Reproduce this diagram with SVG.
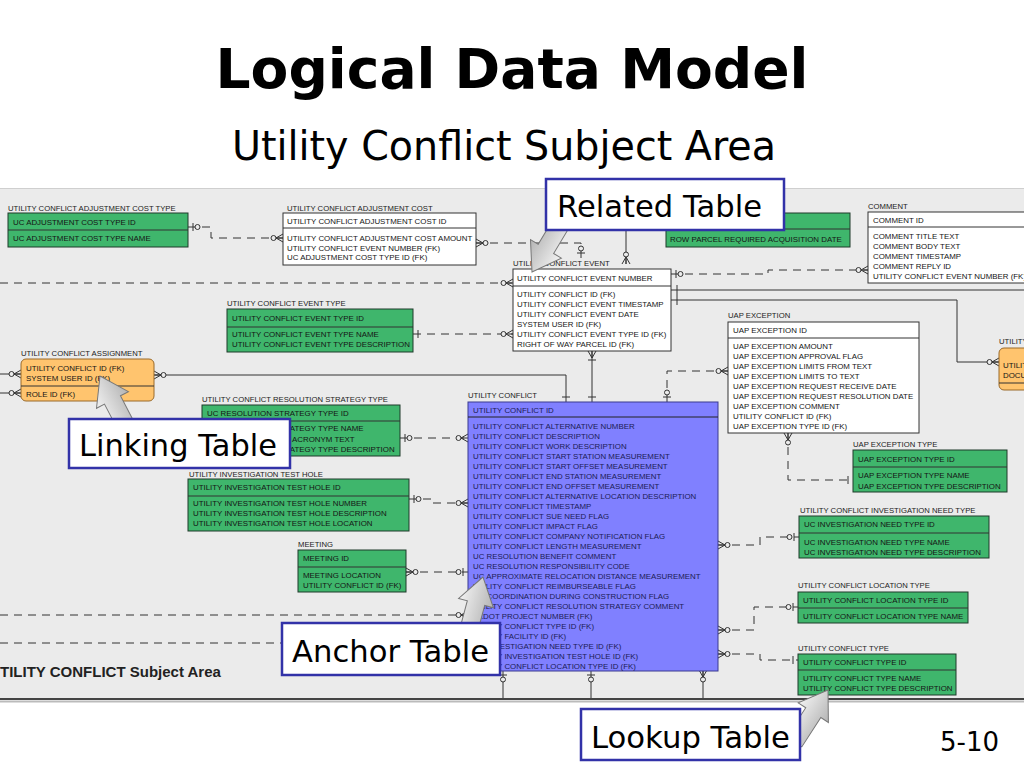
<svg xmlns="http://www.w3.org/2000/svg" width="1024" height="768" viewBox="0 0 1024 768">
<style>
.t{font-family:"Liberation Sans",Arial,sans-serif;font-size:7.9px;fill:#151515}
.bt{font-family:"Liberation Sans",Arial,sans-serif;font-size:7.9px;fill:#1c1c55}
.lbl{font-family:"Liberation Sans",Arial,sans-serif;font-size:7.7px;fill:#222}
.g{fill:#3fb66c;stroke:#1f3a2a;stroke-width:1}
.w{fill:#fff;stroke:#333;stroke-width:1}
.b{fill:#8080ff;stroke:#3a3a90;stroke-width:1}
.o{fill:#ffc46e;stroke:#9a6a2a;stroke-width:1}
.dv{stroke:#333;stroke-width:1}
.d{stroke-dasharray:8 6}
.co{fill:#fff;stroke:#3232a8;stroke-width:2.5}
.ct{font-family:"DejaVu Sans",Verdana,sans-serif;font-size:31px;fill:#000}
.arr{fill:url(#ag);stroke:#777;stroke-width:1}
.ms{fill:none;stroke:#333;stroke-width:1}
.mc{fill:#ebebeb;stroke:#333;stroke-width:1}
</style>
<defs>
<linearGradient id="ag" x1="0" y1="0" x2="0" y2="1">
<stop offset="0" stop-color="#f2f2f2"/><stop offset="1" stop-color="#b4b4b4"/>
</linearGradient>
<polygon id="arrowshape" points="0,0 -27,-18 -27,-9 -62,-9 -62,9 -27,9 -27,18"/>
<marker id="mo" markerUnits="userSpaceOnUse" orient="auto-start-reverse" markerWidth="1" markerHeight="1" refX="0" refY="0" overflow="visible">
<path class="ms" d="M-7,0 L0,-4 M-7,0 L0,4 M-7,0 H0"/><circle class="mc" cx="-9.5" cy="0" r="2.5"/>
</marker>
<marker id="zo" markerUnits="userSpaceOnUse" orient="auto-start-reverse" markerWidth="1" markerHeight="1" refX="0" refY="0" overflow="visible">
<path class="ms" d="M-5,-4 V4"/><circle class="mc" cx="-9.5" cy="0" r="2.5"/>
</marker>
<marker id="one" markerUnits="userSpaceOnUse" orient="auto-start-reverse" markerWidth="1" markerHeight="1" refX="0" refY="0" overflow="visible">
<path class="ms" d="M-5,-4 V4"/>
</marker>
<marker id="mm" markerUnits="userSpaceOnUse" orient="auto-start-reverse" markerWidth="1" markerHeight="1" refX="0" refY="0" overflow="visible">
<path class="ms" d="M-7,0 L0,-4 M-7,0 L0,4 M-7,0 H0 M-9,-4 V4"/>
</marker>
</defs>
<rect width="1024" height="768" fill="#fff"/>
<text x="512" y="88" text-anchor="middle" font-family="DejaVu Sans, Verdana, sans-serif" font-weight="bold" font-size="56" textLength="593" lengthAdjust="spacingAndGlyphs" fill="#000">Logical Data Model</text>
<text x="504" y="160" text-anchor="middle" font-family="DejaVu Sans, Verdana, sans-serif" font-size="40" textLength="544" lengthAdjust="spacingAndGlyphs" fill="#000">Utility Conflict Subject Area</text>

<g id="panel">
<rect x="0" y="188" width="1024" height="511" fill="#ebebeb"/>
<line x1="0" y1="188.5" x2="1024" y2="188.5" stroke="#cfcfcf"/>
<line x1="0" y1="699" x2="1024" y2="699" stroke="#444" stroke-width="2"/>
<line x1="0" y1="701.5" x2="1024" y2="701.5" stroke="#bbb" stroke-width="2"/>
<text x="0" y="677" font-family="Liberation Sans, Arial, sans-serif" font-weight="bold" font-size="15" fill="#222">TILITY CONFLICT Subject Area</text>
</g>

<g id="connectors" fill="none" stroke="#333" stroke-width="1">
<path class="d" d="M188,227 H211 V238 H283" marker-start="url(#zo)" marker-end="url(#mo)"/>
<path class="d" d="M476,243 H581 V258" marker-start="url(#mo)" marker-end="url(#zo)"/>
<path d="M626,229 V264" marker-end="url(#mo)"/>
<path class="d" d="M0,283 H513" marker-end="url(#mo)"/>
<path class="d" d="M413,334 H513" marker-start="url(#one)" marker-end="url(#mo)"/>
<path class="d" d="M671,274 H768 V270 H868" marker-start="url(#zo)" marker-end="url(#mo)"/>
<path d="M671,290 H1024"/>
<path d="M671,300 H957 V362 H999" marker-end="url(#mo)"/>
<path d="M677,285 V305"/>
<path d="M154,375 H566 V402" marker-start="url(#mo)" marker-end="url(#one)"/>
<path d="M592,351 V402" marker-start="url(#mm)" marker-end="url(#one)"/>
<path class="d" d="M667,402 V371 H728" marker-start="url(#zo)" marker-end="url(#mo)"/>
<path class="d" d="M788,433 V480 H853" marker-start="url(#mo)" marker-end="url(#one)"/>
<path class="d" d="M718,545 H760 V537 H799" marker-start="url(#mo)" marker-end="url(#zo)"/>
<path class="d" d="M718,630 H754 V607 H798" marker-start="url(#mo)" marker-end="url(#zo)"/>
<path class="d" d="M718,654 H760 V660 H798" marker-start="url(#mo)" marker-end="url(#one)"/>
<path class="d" d="M400,438 H468" marker-start="url(#zo)" marker-end="url(#mo)"/>
<path class="d" d="M409,499 H433 V503 H468" marker-start="url(#zo)" marker-end="url(#mo)"/>
<path class="d" d="M406,572 H468" marker-start="url(#mo)" marker-end="url(#zo)"/>
<path class="d" d="M0,615 H468" marker-end="url(#mo)"/>
<path class="d" d="M0,643 H300"/>
<path d="M503,670 V698" marker-start="url(#zo)"/>
<path d="M591,670 V698" marker-start="url(#zo)"/>
<path d="M703,670 V698" marker-start="url(#mo)"/>
<path d="M0,374 H21" marker-end="url(#mo)"/>
<path d="M0,393 H21" marker-end="url(#mo)"/>
</g>

<g id="adj-cost-type">
<text class="lbl" x="8" y="211">UTILITY CONFLICT ADJUSTMENT COST TYPE</text>
<rect class="g" x="8" y="213" width="180" height="34"/>
<line class="dv" x1="8" y1="230" x2="188" y2="230"/>
<text class="t" x="13" y="225">UC ADJUSTMENT COST TYPE ID</text>
<text class="t" x="13" y="241">UC ADJUSTMENT COST TYPE NAME</text>
</g>

<g id="adj-cost">
<text class="lbl" x="287" y="211">UTILITY CONFLICT ADJUSTMENT COST</text>
<rect class="w" x="283" y="213" width="193" height="52"/>
<line class="dv" x1="283" y1="228" x2="476" y2="228"/>
<text class="t" x="287" y="224">UTILITY CONFLICT ADJUSTMENT COST ID</text>
<text class="t" x="287" y="241">UTILITY CONFLICT ADJUSTMENT COST AMOUNT</text>
<text class="t" x="287" y="251">UTILITY CONFLICT EVENT NUMBER (FK)</text>
<text class="t" x="287" y="260">UC ADJUSTMENT COST TYPE ID (FK)</text>
</g>

<g id="row-parcel">
<rect class="g" x="666" y="213" width="184" height="34"/>
<line class="dv" x1="666" y1="229" x2="850" y2="229"/>
<text class="t" x="670" y="242">ROW PARCEL REQUIRED ACQUISITION DATE</text>
</g>

<g id="comment">
<text class="lbl" x="868" y="209">COMMENT</text>
<rect class="w" x="868" y="212" width="162" height="71"/>
<line class="dv" x1="868" y1="227" x2="1030" y2="227"/>
<text class="t" x="873" y="223">COMMENT ID</text>
<text class="t" x="873" y="239">COMMENT TITLE TEXT</text>
<text class="t" x="873" y="249">COMMENT BODY TEXT</text>
<text class="t" x="873" y="259">COMMENT TIMESTAMP</text>
<text class="t" x="873" y="269">COMMENT REPLY ID</text>
<text class="t" x="873" y="279">UTILITY CONFLICT EVENT NUMBER (FK)</text>
</g>

<g id="event">
<text class="lbl" x="513" y="266">UTILITY CONFLICT EVENT</text>
<rect class="w" x="513" y="269" width="158" height="82"/>
<line class="dv" x1="513" y1="286" x2="671" y2="286"/>
<text class="t" x="517" y="281">UTILITY CONFLICT EVENT NUMBER</text>
<text class="t" x="517" y="297">UTILITY CONFLICT ID (FK)</text>
<text class="t" x="517" y="307">UTILITY CONFLICT EVENT TIMESTAMP</text>
<text class="t" x="517" y="317">UTILITY CONFLICT EVENT DATE</text>
<text class="t" x="517" y="327">SYSTEM USER ID (FK)</text>
<text class="t" x="517" y="337">UTILITY CONFLICT EVENT TYPE ID (FK)</text>
<text class="t" x="517" y="347">RIGHT OF WAY PARCEL ID (FK)</text>
</g>

<g id="event-type">
<text class="lbl" x="227" y="306">UTILITY CONFLICT EVENT TYPE</text>
<rect class="g" x="227" y="309" width="186" height="43"/>
<line class="dv" x1="227" y1="327" x2="413" y2="327"/>
<text class="t" x="232" y="321">UTILITY CONFLICT EVENT TYPE ID</text>
<text class="t" x="232" y="337">UTILITY CONFLICT EVENT TYPE NAME</text>
<text class="t" x="232" y="347">UTILITY CONFLICT EVENT TYPE DESCRIPTION</text>
</g>

<g id="assignment">
<text class="lbl" x="21" y="356">UTILITY CONFLICT ASSIGNMENT</text>
<rect class="o" x="21" y="359" width="133" height="42" rx="5"/>
<line class="dv" x1="21" y1="386" x2="154" y2="386"/>
<text class="t" x="26" y="371">UTILITY CONFLICT ID (FK)</text>
<text class="t" x="26" y="381">SYSTEM USER ID (FK)</text>
<text class="t" x="26" y="397">ROLE ID (FK)</text>
</g>

<g id="document-right">
<text class="lbl" x="999" y="344">UTILITY</text>
<rect class="o" x="999" y="348" width="40" height="42" rx="5"/>
<line class="dv" x1="999" y1="383" x2="1030" y2="383"/>
<text class="t" x="1003" y="368">UTILITY</text>
<text class="t" x="1003" y="378">DOCUMENT</text>
</g>

<g id="strategy-type">
<text class="lbl" x="202" y="402">UTILITY CONFLICT RESOLUTION STRATEGY TYPE</text>
<rect class="g" x="202" y="405" width="198" height="51"/>
<line class="dv" x1="202" y1="421" x2="400" y2="421"/>
<text class="t" x="207" y="416">UC RESOLUTION STRATEGY TYPE ID</text>
<text class="t" x="207" y="431">UC RESOLUTION STRATEGY TYPE NAME</text>
<text class="t" x="292" y="442">ACRONYM TEXT</text>
<text class="t" x="207" y="452">UC RESOLUTION STRATEGY TYPE DESCRIPTION</text>
</g>

<g id="test-hole">
<text class="lbl" x="189" y="477">UTILITY INVESTIGATION TEST HOLE</text>
<rect class="g" x="188" y="479" width="221" height="52"/>
<line class="dv" x1="188" y1="496" x2="409" y2="496"/>
<text class="t" x="193" y="490">UTILITY INVESTIGATION TEST HOLE ID</text>
<text class="t" x="193" y="506">UTILITY INVESTIGATION TEST HOLE NUMBER</text>
<text class="t" x="193" y="516">UTILITY INVESTIGATION TEST HOLE DESCRIPTION</text>
<text class="t" x="193" y="526">UTILITY INVESTIGATION TEST HOLE LOCATION</text>
</g>

<g id="meeting">
<text class="lbl" x="298" y="547">MEETING</text>
<rect class="g" x="298" y="550" width="108" height="42"/>
<line class="dv" x1="298" y1="567" x2="406" y2="567"/>
<text class="t" x="303" y="561">MEETING ID</text>
<text class="t" x="303" y="578">MEETING LOCATION</text>
<text class="t" x="303" y="588">UTILITY CONFLICT ID (FK)</text>
</g>

<g id="utility-conflict">
<text class="lbl" x="468" y="398">UTILITY CONFLICT</text>
<rect class="b" x="468" y="402" width="250" height="269"/>
<line x1="468" y1="417" x2="718" y2="417" stroke="#222"/>
<text class="bt" x="473" y="413">UTILITY CONFLICT ID</text>
<text class="bt" x="473" y="428.8">UTILITY CONFLICT ALTERNATIVE NUMBER</text>
<text class="bt" x="473" y="438.8">UTILITY CONFLICT DESCRIPTION</text>
<text class="bt" x="473" y="448.8">UTILITY CONFLICT WORK DESCRIPTION</text>
<text class="bt" x="473" y="458.8">UTILITY CONFLICT START STATION MEASUREMENT</text>
<text class="bt" x="473" y="468.8">UTILITY CONFLICT START OFFSET MEASUREMENT</text>
<text class="bt" x="473" y="478.8">UTILITY CONFLICT END STATION MEASUREMENT</text>
<text class="bt" x="473" y="488.8">UTILITY CONFLICT END OFFSET MEASUREMENT</text>
<text class="bt" x="473" y="498.8">UTILITY CONFLICT ALTERNATIVE LOCATION DESCRIPTION</text>
<text class="bt" x="473" y="508.8">UTILITY CONFLICT TIMESTAMP</text>
<text class="bt" x="473" y="518.8">UTILITY CONFLICT SUE NEED FLAG</text>
<text class="bt" x="473" y="528.8">UTILITY CONFLICT IMPACT FLAG</text>
<text class="bt" x="473" y="538.8">UTILITY CONFLICT COMPANY NOTIFICATION FLAG</text>
<text class="bt" x="473" y="548.8">UTILITY CONFLICT LENGTH MEASUREMENT</text>
<text class="bt" x="473" y="558.8">UC RESOLUTION BENEFIT COMMENT</text>
<text class="bt" x="473" y="568.8">UC RESOLUTION RESPONSIBILITY CODE</text>
<text class="bt" x="473" y="578.8">UC APPROXIMATE RELOCATION DISTANCE MEASUREMENT</text>
<text class="bt" x="473" y="588.8">UTILITY CONFLICT REIMBURSEABLE FLAG</text>
<text class="bt" x="473" y="598.8">UC COORDINATION DURING CONSTRUCTION FLAG</text>
<text class="bt" x="473" y="608.8">UTILITY CONFLICT RESOLUTION STRATEGY COMMENT</text>
<text class="bt" x="473" y="618.8">TXDOT PROJECT NUMBER (FK)</text>
<text class="bt" x="473" y="628.8">UTILITY CONFLICT TYPE ID (FK)</text>
<text class="bt" x="473" y="638.8">UTILITY FACILITY ID (FK)</text>
<text class="bt" x="473" y="648.8">UC INVESTIGATION NEED TYPE ID (FK)</text>
<text class="bt" x="473" y="658.8">UTILITY INVESTIGATION TEST HOLE ID (FK)</text>
<text class="bt" x="473" y="668.5">UTILITY CONFLICT LOCATION TYPE ID (FK)</text>
</g>

<g id="uap-exception">
<text class="lbl" x="728" y="318">UAP EXCEPTION</text>
<rect class="w" x="728" y="322" width="191" height="111"/>
<line class="dv" x1="728" y1="338" x2="919" y2="338"/>
<text class="t" x="733" y="333">UAP EXCEPTION ID</text>
<text class="t" x="733" y="349">UAP EXCEPTION AMOUNT</text>
<text class="t" x="733" y="359">UAP EXCEPTION APPROVAL FLAG</text>
<text class="t" x="733" y="369">UAP EXCEPTION LIMITS FROM TEXT</text>
<text class="t" x="733" y="379">UAP EXCEPTION LIMITS TO TEXT</text>
<text class="t" x="733" y="389">UAP EXCEPTION REQUEST RECEIVE DATE</text>
<text class="t" x="733" y="399">UAP EXCEPTION REQUEST RESOLUTION DATE</text>
<text class="t" x="733" y="409">UAP EXCEPTION COMMENT</text>
<text class="t" x="733" y="419">UTILITY CONFLICT ID (FK)</text>
<text class="t" x="733" y="429">UAP EXCEPTION TYPE ID (FK)</text>
</g>

<g id="uap-exception-type">
<text class="lbl" x="853" y="447">UAP EXCEPTION TYPE</text>
<rect class="g" x="853" y="450" width="154" height="42"/>
<line class="dv" x1="853" y1="467" x2="1007" y2="467"/>
<text class="t" x="858" y="462">UAP EXCEPTION TYPE ID</text>
<text class="t" x="858" y="478">UAP EXCEPTION TYPE NAME</text>
<text class="t" x="858" y="489">UAP EXCEPTION TYPE DESCRIPTION</text>
</g>

<g id="need-type">
<text class="lbl" x="800" y="513">UTILITY CONFLICT INVESTIGATION NEED TYPE</text>
<rect class="g" x="799" y="516" width="190" height="42"/>
<line class="dv" x1="799" y1="533" x2="989" y2="533"/>
<text class="t" x="804" y="527">UC INVESTIGATION NEED TYPE ID</text>
<text class="t" x="804" y="545">UC INVESTIGATION NEED TYPE NAME</text>
<text class="t" x="804" y="555">UC INVESTIGATION NEED TYPE DESCRIPTION</text>
</g>

<g id="location-type">
<text class="lbl" x="798" y="588">UTILITY CONFLICT LOCATION TYPE</text>
<rect class="g" x="798" y="592" width="170" height="31"/>
<line class="dv" x1="798" y1="608" x2="968" y2="608"/>
<text class="t" x="803" y="603">UTILITY CONFLICT LOCATION TYPE ID</text>
<text class="t" x="803" y="619">UTILITY CONFLICT LOCATION TYPE NAME</text>
</g>

<g id="conflict-type">
<text class="lbl" x="798" y="651">UTILITY CONFLICT TYPE</text>
<rect class="g" x="798" y="654" width="158" height="41"/>
<line class="dv" x1="798" y1="670" x2="956" y2="670"/>
<text class="t" x="803" y="665">UTILITY CONFLICT TYPE ID</text>
<text class="t" x="803" y="681">UTILITY CONFLICT TYPE NAME</text>
<text class="t" x="803" y="691">UTILITY CONFLICT TYPE DESCRIPTION</text>
</g>

<g id="callout-related">
<use href="#arrowshape" class="arr" transform="translate(532,272) rotate(121)"/>
<rect class="co" x="546" y="179" width="238" height="51"/>
<text class="ct" x="557" y="217" textLength="205" lengthAdjust="spacingAndGlyphs">Related Table</text>
</g>

<g id="callout-linking">
<use href="#arrowshape" class="arr" transform="translate(100,376) rotate(-117.5)"/>
<rect class="co" x="69" y="419" width="221" height="49"/>
<text class="ct" x="79" y="456" textLength="198" lengthAdjust="spacingAndGlyphs">Linking Table</text>
</g>

<g id="callout-anchor">
<use href="#arrowshape" class="arr" transform="translate(483,577) rotate(-75)"/>
<rect class="co" x="282" y="623" width="218" height="52"/>
<text class="ct" x="292" y="662" textLength="197" lengthAdjust="spacingAndGlyphs">Anchor Table</text>
</g>

<g id="callout-lookup">
<use href="#arrowshape" class="arr" transform="translate(828,690) rotate(-57)"/>
<rect class="co" x="581" y="709" width="219" height="51"/>
<text class="ct" x="591" y="748" textLength="199" lengthAdjust="spacingAndGlyphs">Lookup Table</text>
</g>

<text x="940" y="751" font-family="DejaVu Sans, Verdana, sans-serif" font-size="26" fill="#000">5-10</text>
</svg>
